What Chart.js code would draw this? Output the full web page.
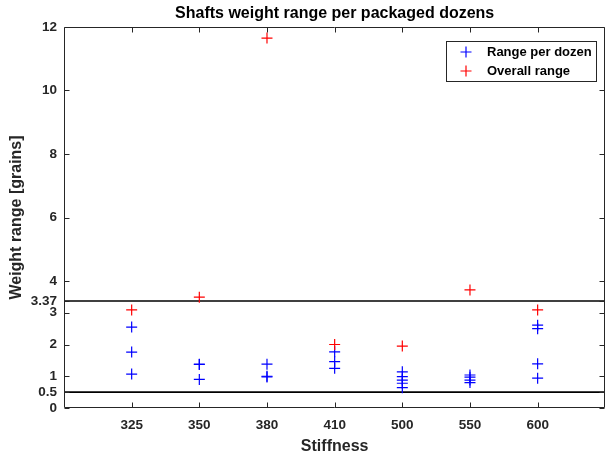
<!DOCTYPE html>
<html>
<head>
<meta charset="utf-8">
<script src="https://cdn.jsdelivr.net/npm/chart.js@4/dist/chart.umd.min.js"></script>
<style>
  html, body { margin: 0; padding: 0; background: #fff; overflow: hidden; }
  #wrap { width: 612px; height: 457px; }
</style>
</head>
<body>
<div id="wrap"><canvas id="c" width="612" height="457"></canvas></div>
<script>
// ---- data ----
const categories = ['325', '350', '380', '410', '500', '550', '600'];
const rangePerDozen = [
  [2.55, 1.76, 1.07],
  [1.38, 1.37, 0.90],
  [1.38, 1.00, 0.98],
  [1.77, 1.46, 1.25],
  [1.14, 0.99, 0.88, 0.78, 0.64],
  [1.04, 0.97, 0.88, 0.80],
  [2.61, 2.50, 1.39, 0.94]
];
const overallRange = [3.09, 3.49, 11.65, 2.00, 1.95, 3.72, 3.09];
const yTickValues = [0, 0.5, 1, 2, 3, 3.37, 4, 6, 8, 10, 12];
const limitLines = [3.37, 0.5];
const seriesNames = ['Range per dozen', 'Overall range'];
const titleText = 'Shafts weight range per packaged dozens';
const xTitle = 'Stiffness';
const yTitle = 'Weight range [grains]';

// ---- build datasets ----
const perDozenPts = [];
rangePerDozen.forEach((arr, i) => arr.forEach(v => perDozenPts.push({ x: i + 1, y: v })));
const overallPts = overallRange.map((v, i) => ({ x: i + 1, y: v }));
const xMin = 0, xMax = categories.length + 1;

const AX = '#262626';
const FONT = "'Liberation Sans', Arial, sans-serif";

const datasets = [
  {
    label: seriesNames[0], data: perDozenPts, showLine: false,
    pointStyle: 'cross', pointRadius: 5.5, borderColor: '#0000ff', backgroundColor: '#0000ff',
    pointBorderWidth: 1.2, order: 2
  },
  {
    label: seriesNames[1], data: overallPts, showLine: false,
    pointStyle: 'cross', pointRadius: 5.5, borderColor: '#ff0000', backgroundColor: '#ff0000',
    pointBorderWidth: 1.2, order: 1
  }
];
limitLines.forEach(v => datasets.push({
  label: 'limit ' + v, data: [{ x: xMin, y: v }, { x: xMax, y: v }], showLine: true,
  pointRadius: 0, borderColor: '#000', borderWidth: 1.6, order: 3, isLimit: true
}));

const boxPlugin = {
  id: 'box',
  afterDraw(chart) {
    const { ctx, chartArea: a, scales: { x, y } } = chart;
    ctx.save();
    // box
    ctx.strokeStyle = AX;
    ctx.lineWidth = 1;
    ctx.beginPath();
    const L = Math.round(a.left) + 0.5, R = Math.round(a.right) - 0.5;
    const T = Math.round(a.top) + 0.5, B = Math.round(a.bottom) - 0.5;
    ctx.moveTo(L, T); ctx.lineTo(R, T); ctx.lineTo(R, B); ctx.lineTo(L, B); ctx.closePath();
    ctx.stroke();
    // ticks
    const tl = 5;
    ctx.beginPath();
    x.ticks.forEach(t => {
      const px = Math.round(x.getPixelForValue(t.value)) + 0.5;
      ctx.moveTo(px, B); ctx.lineTo(px, B - tl);
      ctx.moveTo(px, T); ctx.lineTo(px, T + tl);
    });
    y.ticks.forEach(t => {
      const py = Math.round(y.getPixelForValue(t.value)) + 0.5;
      ctx.moveTo(L, py); ctx.lineTo(L + tl, py);
      ctx.moveTo(R, py); ctx.lineTo(R - tl, py);
    });
    ctx.stroke();

    // title
    ctx.fillStyle = '#000';
    ctx.font = 'bold 16px ' + FONT;
    ctx.textAlign = 'center';
    ctx.textBaseline = 'middle';
    ctx.fillText(titleText, (a.left + a.right) / 2, 14);

    // legend
    const lx = 446.5, ly = 41.5, lw = 150, lh = 40;
    ctx.fillStyle = '#fff';
    ctx.fillRect(lx, ly, lw, lh);
    ctx.strokeStyle = AX;
    ctx.lineWidth = 1;
    ctx.strokeRect(lx, ly, lw, lh);
    const rows = [chart.data.datasets[0], chart.data.datasets[1]];
    rows.forEach((ds, i) => {
      const cy = 52 + i * 19;
      const cx = 466;
      ctx.strokeStyle = ds.borderColor;
      ctx.lineWidth = 1.2;
      ctx.beginPath();
      ctx.moveTo(cx - 5.5, cy); ctx.lineTo(cx + 5.5, cy);
      ctx.moveTo(cx, cy - 5.5); ctx.lineTo(cx, cy + 5.5);
      ctx.stroke();
      ctx.fillStyle = '#000';
      ctx.font = 'bold 13px ' + FONT;
      ctx.textAlign = 'left';
      ctx.textBaseline = 'middle';
      ctx.fillText(ds.label, 487, cy);
    });
    ctx.restore();
  }
};

new Chart(document.getElementById('c'), {
  type: 'scatter',
  data: { datasets },
  options: {
    responsive: false,
    animation: false,
    layout: { padding: { top: 27, right: 2, left: 0, bottom: 0 } },
    plugins: { legend: { display: false }, tooltip: { enabled: false }, title: { display: false } },
    scales: {
      x: {
        type: 'linear', min: xMin, max: xMax,
        afterBuildTicks: s => { s.ticks = categories.map((c, i) => ({ value: i + 1 })); },
        afterFit: s => { s.height = 49; },
        grid: { display: false, drawTicks: false },
        border: { display: false },
        ticks: {
          autoSkip: false, maxRotation: 0, padding: 9, color: AX,
          font: { family: FONT, size: 13.5, weight: 'bold' },
          callback: v => categories[Math.round(v) - 1]
        },
        title: { display: true, text: xTitle, color: AX, padding: { top: 0, bottom: 1 },
          font: { family: FONT, size: 16, weight: 'bold' } }
      },
      y: {
        type: 'linear', min: 0, max: 12,
        afterBuildTicks: s => { s.ticks = yTickValues.map(v => ({ value: v })); },
        afterFit: s => { s.width = 64; },
        grid: { display: false, drawTicks: false },
        border: { display: false },
        ticks: {
          autoSkip: false, padding: 7, color: AX,
          font: { family: FONT, size: 13.5, weight: 'bold' },
          callback: v => String(v)
        },
        title: { display: true, text: yTitle, color: AX, padding: { top: 7, bottom: 0 },
          font: { family: FONT, size: 16, weight: 'bold' } }
      }
    }
  },
  plugins: [boxPlugin]
});
</script>
</body>
</html>
